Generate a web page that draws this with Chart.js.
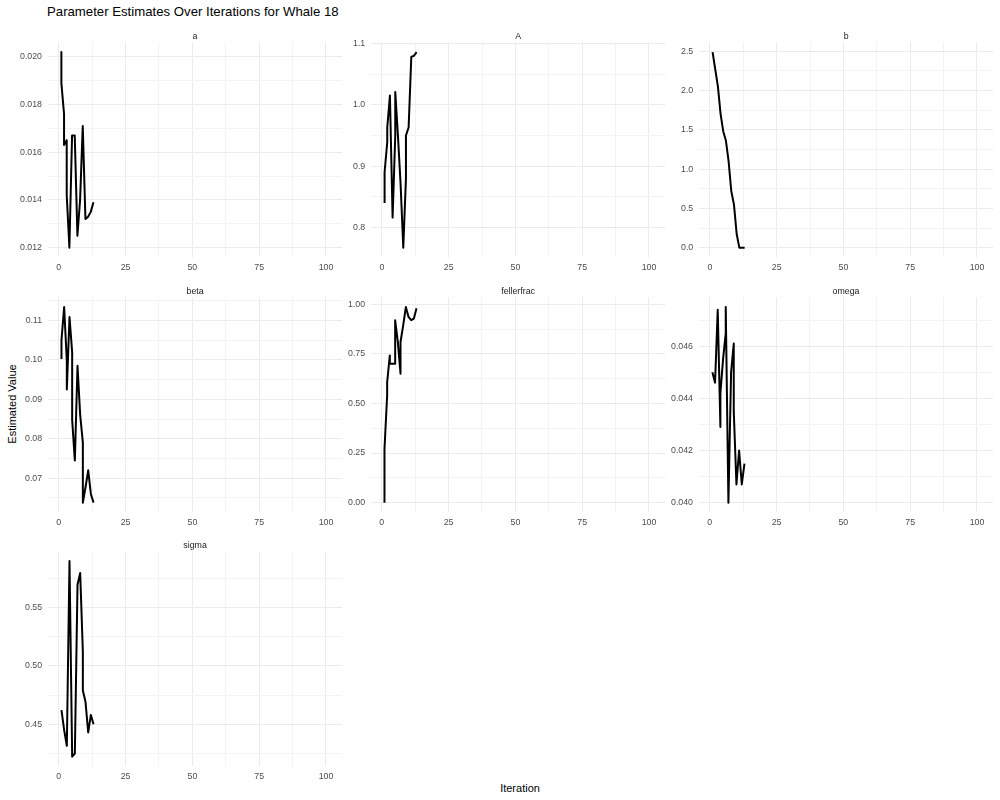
<!DOCTYPE html>
<html><head><meta charset="utf-8">
<script src="https://cdn.jsdelivr.net/npm/chart.js@4.4.1/dist/chart.umd.min.js"></script>
<style>
html,body{margin:0;padding:0;background:#fff;width:1000px;height:800px;overflow:hidden;font-family:"Liberation Sans",Arial,sans-serif;}
.t{position:absolute;white-space:nowrap;color:#000;line-height:1;}
</style></head><body>
<div class="t" style="left:47px;top:5px;font-size:13.2px;">Parameter Estimates Over Iterations for Whale 18</div>
<div class="t" style="left:520px;top:783px;font-size:11px;transform:translateX(-50%);">Iteration</div>
<div class="t" style="left:12px;top:404px;font-size:11px;transform:translate(-50%,-50%) rotate(-90deg);">Estimated Value</div>
<script>
// ---- shared x axis ----
const iterTicks = [0, 25, 50, 75, 100];
const iterTickLabels = ["0", "25", "50", "75", "100"];
const iterMinor = [12.5, 37.5, 62.5, 87.5];
const iterMin = -4, iterMax = 106;

// ---- panel: a ----
const aIter  = [1, 1, 2, 2, 3, 3, 4, 5, 6, 7, 8, 9, 10, 11, 12, 13];
const aValue = [0.0202, 0.0189, 0.0176, 0.0163, 0.0165, 0.0142, 0.0120, 0.0167, 0.0167, 0.0125, 0.0140, 0.0171, 0.0132, 0.0133, 0.0135, 0.0139];
const aTicks = [0.012, 0.014, 0.016, 0.018, 0.020];
const aTickLabels = ["0.012", "0.014", "0.016", "0.018", "0.020"];
const aMinor = [0.011, 0.013, 0.015, 0.017, 0.019, 0.021];

// ---- panel: A ----
const AIter  = [1, 1, 2, 2, 3, 4, 5, 5, 6, 7, 8, 9, 9, 10, 11, 12, 13];
const AValue = [0.840, 0.890, 0.939, 0.963, 1.015, 0.816, 0.950, 1.021, 0.950, 0.870, 0.767, 0.880, 0.950, 0.963, 1.078, 1.080, 1.086];
const ATicks = [0.8, 0.9, 1.0, 1.1];
const ATickLabels = ["0.8", "0.9", "1.0", "1.1"];
const AMinor = [0.75, 0.85, 0.95, 1.05];

// ---- panel: b ----
const bIter  = [1, 2, 3, 4, 5, 6, 7, 8, 9, 10, 11, 12, 13];
const bValue = [2.49, 2.27, 2.05, 1.70, 1.48, 1.36, 1.10, 0.72, 0.55, 0.18, 0.0, 0.0, 0.0];
const bTicks = [0.0, 0.5, 1.0, 1.5, 2.0, 2.5];
const bTickLabels = ["0.0", "0.5", "1.0", "1.5", "2.0", "2.5"];
const bMinor = [0.25, 0.75, 1.25, 1.75, 2.25];

// ---- panel: beta ----
const betaIter  = [1, 1, 2, 3, 3, 4, 5, 5, 6, 7, 8, 9, 9, 10, 11, 12, 13];
const betaValue = [0.1002, 0.1050, 0.1134, 0.0997, 0.0925, 0.1109, 0.1019, 0.0848, 0.0745, 0.0985, 0.0860, 0.0790, 0.0638, 0.0677, 0.0720, 0.0660, 0.0638];
const betaTicks = [0.07, 0.08, 0.09, 0.10, 0.11];
const betaTickLabels = ["0.07", "0.08", "0.09", "0.10", "0.11"];
const betaMinor = [0.065, 0.075, 0.085, 0.095, 0.105, 0.115];

// ---- panel: fellerfrac ----
const fellerIter  = [1, 1, 2, 2, 3, 3, 4, 5, 5, 6, 7, 7, 8, 9, 10, 11, 12, 13];
const fellerValue = [0.0, 0.271, 0.540, 0.607, 0.742, 0.700, 0.700, 0.700, 0.919, 0.810, 0.650, 0.810, 0.894, 0.986, 0.936, 0.920, 0.928, 0.980];
const fellerTicks = [0.0, 0.25, 0.5, 0.75, 1.0];
const fellerTickLabels = ["0.00", "0.25", "0.50", "0.75", "1.00"];
const fellerMinor = [0.125, 0.375, 0.625, 0.875];

// ---- panel: omega ----
const omegaIter  = [1, 2, 3, 4, 4, 5, 6, 6, 7, 8, 9, 9, 10, 11, 12, 13];
const omegaValue = [0.0450, 0.0446, 0.0474, 0.0429, 0.0442, 0.0455, 0.0465, 0.0475, 0.0400, 0.0450, 0.0461, 0.0435, 0.0407, 0.0420, 0.0407, 0.0415];
const omegaTicks = [0.040, 0.042, 0.044, 0.046];
const omegaTickLabels = ["0.040", "0.042", "0.044", "0.046"];
const omegaMinor = [0.041, 0.043, 0.045, 0.047];

// ---- panel: sigma ----
const sigmaIter  = [1, 2, 3, 4, 5, 6, 7, 8, 9, 9, 10, 11, 12, 13];
const sigmaValue = [0.4621, 0.4450, 0.4316, 0.5897, 0.4223, 0.4250, 0.5695, 0.5795, 0.5120, 0.4790, 0.4690, 0.4430, 0.4580, 0.4500];
const sigmaTicks = [0.45, 0.50, 0.55];
const sigmaTickLabels = ["0.45", "0.50", "0.55"];
const sigmaMinor = [0.425, 0.475, 0.525, 0.575];

const FONT = '"Liberation Sans", Arial, sans-serif';

const panels = [
  {name: "a", iter: aIter, value: aValue, ticks: aTicks, labels: aTickLabels, minor: aMinor},
  {name: "A", iter: AIter, value: AValue, ticks: ATicks, labels: ATickLabels, minor: AMinor},
  {name: "b", iter: bIter, value: bValue, ticks: bTicks, labels: bTickLabels, minor: bMinor},
  {name: "beta", iter: betaIter, value: betaValue, ticks: betaTicks, labels: betaTickLabels, minor: betaMinor},
  {name: "fellerfrac", iter: fellerIter, value: fellerValue, ticks: fellerTicks, labels: fellerTickLabels, minor: fellerMinor},
  {name: "omega", iter: omegaIter, value: omegaValue, ticks: omegaTicks, labels: omegaTickLabels, minor: omegaMinor},
  {name: "sigma", iter: sigmaIter, value: sigmaValue, ticks: sigmaTicks, labels: sigmaTickLabels, minor: sigmaMinor}
];

// layout (plot-area boxes)
const colX = [48, 371, 699];
const rowY = [42, 297, 551];
const boxW = 294, boxH = 215;

function labelFor(v, ticks, labels) {
  for (let i = 0; i < ticks.length; i++) if (Math.abs(ticks[i] - v) < 1e-9) return labels[i];
  return "";
}
function isMajor(v, ticks) { return ticks.some(t => Math.abs(t - v) < 1e-9); }

function cfg(p) {
  const lo = Math.min(...p.value), hi = Math.max(...p.value);
  const pad = (hi - lo) * 0.05;
  const yMin = lo - pad, yMax = hi + pad;
  return {
    type: 'line',
    data: { datasets: [{
      data: p.iter.map((x, i) => ({x: x, y: p.value[i]})),
      borderColor: '#000000', borderWidth: 2, pointRadius: 0, pointHoverRadius: 0,
      tension: 0, fill: false, borderJoinStyle: 'round', borderCapStyle: 'butt'
    }]},
    options: {
      animation: false, responsive: false, maintainAspectRatio: false, events: [],
      layout: {padding: 0},
      plugins: {
        legend: {display: false}, tooltip: {enabled: false},
        title: {display: true, text: p.name, fullSize: false, color: '#1A1A1A',
          font: {family: FONT, size: 8.8, weight: 'normal'}, padding: {top: 0, bottom: 0}}
      },
      scales: {
        x: {
          type: 'linear', min: iterMin, max: iterMax,
          border: {display: false},
          grid: {drawTicks: false, lineWidth: 1,
            color: ctx => (ctx.tick && isMajor(ctx.tick.value, iterTicks)) ? '#EBEBEB' : '#F3F3F3'},
          ticks: {padding: 5, color: '#4D4D4D', font: {family: FONT, size: 8.8}, autoSkip: false, maxRotation: 0,
            callback: v => labelFor(v, iterTicks, iterTickLabels)},
          afterBuildTicks: s => { s.ticks = iterTicks.concat(iterMinor).sort((a, b) => a - b).map(v => ({value: v})); }
        },
        y: {
          type: 'linear', min: yMin, max: yMax,
          border: {display: false},
          grid: {drawTicks: false, lineWidth: 1,
            color: ctx => (ctx.tick && isMajor(ctx.tick.value, p.ticks)) ? '#EBEBEB' : '#F3F3F3'},
          ticks: {padding: 6, color: '#4D4D4D', font: {family: FONT, size: 8.8}, autoSkip: false,
            callback: v => labelFor(v, p.ticks, p.labels)},
          afterBuildTicks: s => {
            s.ticks = p.ticks.concat(p.minor).filter(v => v >= yMin && v <= yMax)
              .sort((a, b) => a - b).map(v => ({value: v}));
          }
        }
      }
    }
  };
}

function setSize(c, w, h) { c.width = w; c.height = h; c.style.width = w + 'px'; c.style.height = h + 'px'; }

function build(p, bx, by) {
  const wrap = document.createElement('div');
  wrap.style.position = 'absolute';
  document.body.appendChild(wrap);
  let c = document.createElement('canvas');
  let w = boxW + 80, h = boxH + 40;
  setSize(c, w, h); wrap.appendChild(c);
  let ch = new Chart(c, cfg(p));
  const a = ch.chartArea;
  const mL = a.left, mT = a.top, mR = w - a.right, mB = h - a.bottom;
  ch.destroy(); wrap.removeChild(c);
  c = document.createElement('canvas');
  w = Math.round(boxW + mL + mR); h = Math.round(boxH + mT + mB);
  setSize(c, w, h); wrap.appendChild(c);
  ch = new Chart(c, cfg(p));
  const a2 = ch.chartArea;
  wrap.style.left = Math.round(bx - a2.left) + 'px';
  wrap.style.top = Math.round(by - a2.top) + 'px';
}

panels.forEach((p, i) => build(p, colX[i % 3], rowY[Math.floor(i / 3)]));
</script>
</body></html>
